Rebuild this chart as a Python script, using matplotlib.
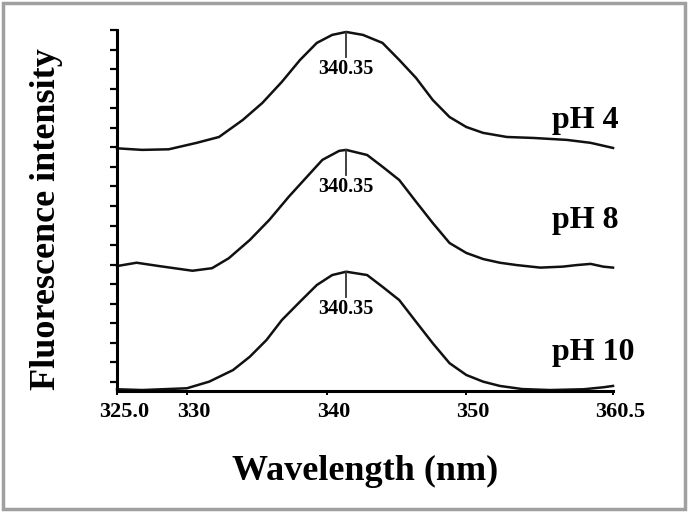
import matplotlib
matplotlib.use('Agg')
import matplotlib.pyplot as plt
from matplotlib.patches import Rectangle
from matplotlib.transforms import ScaledTranslation

plt.rcParams['font.family'] = ['Liberation Serif', 'DejaVu Serif']
plt.rcParams['font.weight'] = 'bold'
plt.rcParams['axes.labelweight'] = 'bold'

# spectra (wavelength in nm, intensity in arbitrary offset units)
wl_ph4 = [325.0, 326.8, 328.7, 330.7, 332.3, 334.0, 335.4, 336.8, 338.1, 339.3, 340.4, 341.4, 342.6,
          344.0, 345.2, 346.4, 347.6, 348.8, 350.0, 351.2, 352.9, 354.8, 357.2, 358.9, 360.5]
int_ph4 = [11.95, 11.87, 11.90, 12.23, 12.53, 13.40, 14.27, 15.35, 16.47, 17.34, 17.75, 17.90, 17.75,
           17.34, 16.47, 15.55, 14.42, 13.55, 13.04, 12.74, 12.53, 12.48, 12.38, 12.23, 11.97]

wl_ph8 = [325.0, 326.4, 328.0, 330.4, 331.8, 333.0, 334.5, 335.9, 337.3, 338.6, 339.7, 340.9, 341.4,
          342.9, 344.0, 345.2, 346.4, 347.6, 348.8, 350.0, 351.2, 352.4, 353.6, 355.3, 356.9, 357.9,
          358.9, 359.8, 360.5]
int_ph8 = [5.93, 6.10, 5.93, 5.69, 5.82, 6.33, 7.26, 8.29, 9.48, 10.50, 11.36, 11.82, 11.87,
           11.61, 11.01, 10.33, 9.22, 8.13, 7.11, 6.60, 6.29, 6.10, 5.98, 5.85, 5.90, 5.98,
           6.04, 5.90, 5.85]

wl_ph10 = [325.0, 326.8, 330.0, 331.6, 333.3, 334.5, 335.7, 336.8, 338.1, 339.3, 340.4, 341.4, 342.9,
           344.0, 345.2, 346.4, 347.6, 348.8, 350.0, 351.2, 352.4, 354.0, 356.0, 358.4, 359.8, 360.5]
int_ph10 = [-0.37, -0.41, -0.32, 0.02, 0.61, 1.29, 2.15, 3.17, 4.11, 4.96, 5.47, 5.64, 5.47,
            4.87, 4.19, 3.08, 1.98, 0.96, 0.36, 0.02, -0.20, -0.36, -0.41, -0.37, -0.27, -0.20]

names = ['pH 4', 'pH 8', 'pH 10']
name_y = [12.99, 7.88, 1.13]
peak_nm = 341.4
peak_label = '340.35'

xtick_pos = [325.0, 330, 340, 350, 360.5]
xtick_labels = ['325.0', '330', '340', '350', '360.5']

fig = plt.figure(figsize=(6.88, 5.12), dpi=100)
ax = fig.add_axes([0.1701, 0.2363, 0.7209, 0.7051])

series = [(wl_ph4, int_ph4), (wl_ph8, int_ph8), (wl_ph10, int_ph10)]
for (wl, vals), name, ny in zip(series, names, name_y):
    ax.plot(wl, vals, color='#111111', lw=1.8, clip_on=False, solid_joinstyle='round')
    top = max(vals)
    # marker line under the peak
    ax.plot([peak_nm, peak_nm], [top, top - 1.28], color='#333333', lw=1.3)
    ax.annotate(peak_label, (peak_nm, top - 1.28), xytext=(0, -1.5), textcoords='offset points',
                ha='center', va='top', fontsize=14.5)
    ax.text(356.1, ny, name, fontsize=23, ha='left', va='baseline')

ax.set_xlim(325, 360.5)
ax.set_ylim(-0.46, 18.0)
ax.set_xticks(xtick_pos)
ax.set_xticklabels(xtick_labels, fontsize=16)
ax.set_yticks(range(19))
ax.set_yticklabels([])
ax.tick_params(axis='y', direction='out', length=5, width=1.6)
ax.tick_params(axis='x', direction='out', length=3, width=1.4, pad=5)
for lbl in ax.get_xticklabels():
    lbl.set_transform(lbl.get_transform() + ScaledTranslation(0.07, 0, fig.dpi_scale_trans))

ax.spines['top'].set_visible(False)
ax.spines['right'].set_visible(False)
ax.spines['left'].set_linewidth(2.2)
ax.spines['bottom'].set_linewidth(2.2)

ax.set_xlabel('Wavelength (nm)', fontsize=26, fontweight='bold')
ax.xaxis.set_label_coords(0.5, -0.177)
ax.set_ylabel('Fluorescence intensity', fontsize=26, fontweight='bold')
ax.yaxis.set_label_coords(-0.109, 0.476)

# grey frame round the whole picture
fig.patches.append(Rectangle((3 / 688, 3 / 512), 682 / 688, 506 / 512, transform=fig.transFigure,
                             fill=False, edgecolor='#a0a0a0', lw=2.5))

fig.savefig('out.png', dpi=100, facecolor='white')
